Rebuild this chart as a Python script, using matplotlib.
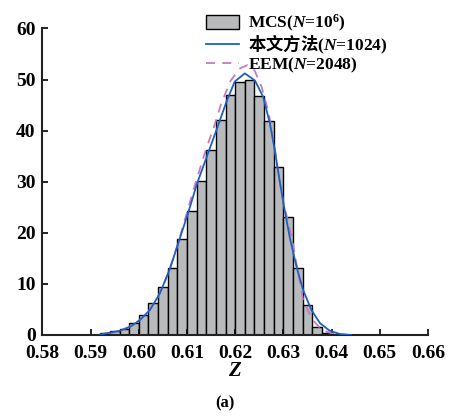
import numpy as np
import matplotlib
matplotlib.use("Agg")
import matplotlib.pyplot as plt

plt.rcParams['font.family'] = ['Liberation Serif', 'Noto Sans CJK SC']
plt.rcParams['font.weight'] = 'bold'
plt.rcParams['mathtext.fontset'] = 'custom'
plt.rcParams['mathtext.rm'] = 'Liberation Serif:bold'
plt.rcParams['mathtext.it'] = 'Liberation Serif:italic:bold'
plt.rcParams['mathtext.bf'] = 'Liberation Serif:bold'
plt.rcParams['mathtext.sf'] = 'Noto Sans CJK SC:bold'

# MCS histogram (bin width 0.002)
bin_left = [0.592, 0.594, 0.596, 0.598, 0.600, 0.602, 0.604, 0.606, 0.608, 0.610,
            0.612, 0.614, 0.616, 0.618, 0.620, 0.622, 0.624, 0.626, 0.628, 0.630,
            0.632, 0.634, 0.636, 0.638]
bin_width = 0.002
mcs_density = [0.33, 0.72, 1.1, 2.3, 3.85, 6.3, 9.3, 13.2, 18.7, 24.2,
               30.1, 36.3, 42.1, 47.0, 49.6, 50.0, 46.8, 41.9, 32.8, 23.0,
               13.2, 5.9, 1.5, 0.45]

# proposed method (N=1024)
pm_z = [0.592, 0.5933, 0.5961, 0.5982, 0.6002, 0.6023, 0.6044, 0.6065, 0.6084,
        0.6103, 0.6121, 0.6141, 0.6161, 0.6182, 0.6199, 0.6220, 0.6241, 0.6258,
        0.6272, 0.6282, 0.6290, 0.6300, 0.6313, 0.6327, 0.6341, 0.6358, 0.6376,
        0.6396, 0.6417, 0.6440]
pm_pdf = [0.1, 0.33, 0.84, 1.6, 2.9, 4.9, 8.2, 13.1, 18.6,
          24.1, 29.7, 34.9, 40.1, 45.7, 49.6, 51.2, 49.8, 46.6,
          41.4, 36.2, 31.5, 25.8, 19.2, 13.4, 8.8, 4.9, 2.3,
          0.84, 0.2, 0.0]

# EEM (N=2048)
eem_z = [0.590, 0.592, 0.594, 0.596, 0.598, 0.600, 0.602, 0.604, 0.606, 0.608,
         0.610, 0.612, 0.614, 0.6155, 0.617, 0.619, 0.621, 0.6225, 0.624, 0.6255,
         0.627, 0.6282, 0.629, 0.630, 0.6317, 0.633, 0.6341, 0.636, 0.638, 0.640,
         0.642, 0.645, 0.660]
eem_pdf = [0.0, 0.05, 0.3, 0.8, 1.6, 2.8, 4.6, 7.5, 11.8, 17.5,
           24.0, 30.5, 36.5, 40.5, 45.0, 49.7, 52.2, 52.8, 51.8, 48.5,
           43.2, 36.8, 31.0, 26.0, 19.2, 12.5, 6.8, 3.0, 1.0, 0.3,
           0.05, 0.0, 0.0]

x_ticks = [0.58, 0.59, 0.60, 0.61, 0.62, 0.63, 0.64, 0.65, 0.66]
y_ticks = [0, 10, 20, 30, 40, 50, 60]

fig = plt.figure(figsize=(4.5, 4.18), dpi=100)
ax = fig.add_axes([0.0944, 0.1986, 0.8566, 0.7334])

bars = ax.bar(bin_left, mcs_density, width=bin_width, align='edge',
              color='#b9babc', edgecolor='black', linewidth=1.0, zorder=1)
line_pm, = ax.plot(pm_z, pm_pdf, color='#1f5fbf', lw=1.3, zorder=3)
line_eem, = ax.plot(eem_z, eem_pdf, color='#c27bc2', lw=1.3,
                    ls=(0, (5, 4)), zorder=2)

ax.set_xlim(0.58, 0.66)
ax.set_ylim(0, 60)
ax.set_xticks(x_ticks)
ax.set_xticklabels([f'{t:.2f}' for t in x_ticks])
ax.set_yticks(y_ticks)
for s in ['top', 'right']:
    ax.spines[s].set_visible(False)
for s in ['left', 'bottom']:
    ax.spines[s].set_linewidth(1.5)
    ax.spines[s].set_color('#222222')
ax.tick_params(direction='in', length=4, width=1.2, labelsize=14)
ax.tick_params(axis='x', pad=7)
ax.tick_params(axis='y', pad=5)
for lab in ax.get_xticklabels() + ax.get_yticklabels():
    lab.set_fontweight('bold')

ax.set_xlabel('$Z$', fontsize=15, labelpad=0)

labels = ['MCS($N$=10$^{6}$)', r'$\mathsf{本文方法}$($N$=1024)', 'EEM($N$=2048)']
leg = ax.legend([bars, line_pm, line_eem], labels,
                loc='upper left', bbox_to_anchor=(206 / 450, 1 - 13 / 418),
                bbox_transform=fig.transFigure, frameon=False,
                fontsize=12.5, handlelength=1.9, handleheight=0.85,
                handletextpad=0.5, labelspacing=-0.05, borderaxespad=0,
                borderpad=0)

fig.text(0.5, 0.016, '(a)', ha='center', va='bottom', fontsize=12,
         fontweight='bold')

fig.savefig('out.png', dpi=100)
